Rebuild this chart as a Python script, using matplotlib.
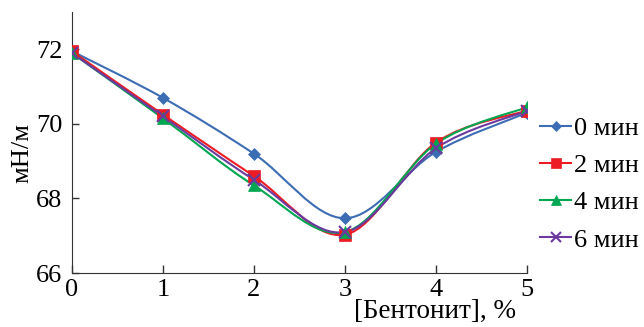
import numpy as np
import matplotlib.pyplot as plt
from matplotlib.path import Path
from matplotlib.patches import PathPatch
from matplotlib.lines import Line2D

plt.rcParams['font.family'] = ['Liberation Serif', 'DejaVu Serif']

bentonite = [0, 1, 2, 3, 4, 5]
t0 = [71.95, 70.7, 69.2, 67.47, 69.25, 70.3]
t2 = [71.95, 70.25, 68.6, 67.03, 69.5, 70.36]
t4 = [71.9, 70.15, 68.35, 67.1, 69.47, 70.45]
t6 = [71.9, 70.2, 68.5, 67.1, 69.35, 70.35]
labels = ['0 мин', '2 мин', '4 мин', '6 мин']
colors = ['#3C6DB4', '#ED1C24', '#00A651', '#6B3A9E']
markers = ['D', 's', '^', 'x']
msizes = [6, 9, 8, 9]


def smooth_path(x, y):
    # Excel-like smoothed line: cubic Bezier through the points
    p = np.column_stack([x, y]).astype(float)
    n = len(p)
    verts = [p[0]]
    codes = [Path.MOVETO]
    for i in range(n - 1):
        prev = p[i - 1] if i > 0 else p[i]
        nxt = p[i + 2] if i + 2 < n else p[i + 1]
        c1 = p[i] + (p[i + 1] - prev) / 6
        c2 = p[i + 1] - (nxt - p[i]) / 6
        verts += [c1, c2, p[i + 1]]
        codes += [Path.CURVE4] * 3
    return Path(verts, codes)


fig = plt.figure(figsize=(6.44, 3.27), dpi=100)
ax = fig.add_axes([0.1118, 0.165, 0.7065, 0.798])

for vals, lab, c, m, ms in zip([t0, t2, t4, t6], labels, colors, markers, msizes):
    ax.add_patch(PathPatch(smooth_path(bentonite, vals), facecolor='none',
                           edgecolor=c, lw=1.5, zorder=2))
    ax.plot(bentonite, vals, ls='none', color=c, marker=m, ms=ms,
            mew=1.5 if m == 'x' else 0.5, zorder=3)

ax.set_xlim(0, 5)
ax.set_ylim(66, 73)
ax.set_yticks([66, 68, 70, 72])
ax.set_xticks(bentonite)
ax.spines['top'].set_visible(False)
ax.spines['right'].set_visible(False)
for s in ['left', 'bottom']:
    ax.spines[s].set_color('#333333')
ax.tick_params(axis='x', direction='in', length=6, width=1, color='#333333',
               labelsize=19, pad=4)
ax.tick_params(axis='y', direction='in', length=5, width=1, color='#333333',
               labelsize=19, pad=7)

ax.set_xlabel('[Бентонит], %', fontsize=19.5)
ax.xaxis.set_label_coords(0.798, -0.10)
ax.set_ylabel('мН/м', fontsize=19)
ax.yaxis.set_label_coords(-0.086, 0.46)

leg_handles = [Line2D([], [], color=c, lw=1.5, marker=m, ms=ms * 0.85,
                      mew=1.5 if m == 'x' else 0.5)
               for c, m, ms in zip(colors, markers, msizes)]
fig.legend(leg_handles, labels, loc='center left', bbox_to_anchor=(0.838, 0.437),
           frameon=False, fontsize=19, handlelength=1.2, handletextpad=0.1,
           labelspacing=0.52, borderpad=0, borderaxespad=0)

fig.savefig('out.png', dpi=100)
